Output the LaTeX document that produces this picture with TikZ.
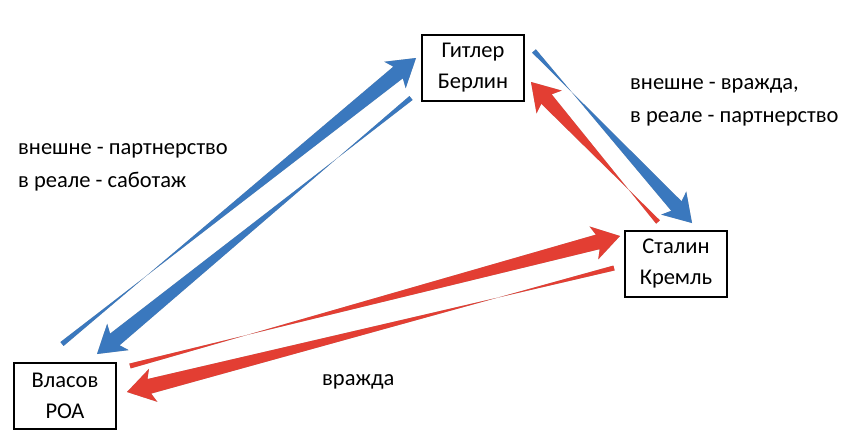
\documentclass[tikz,border=0pt]{standalone}
\usepackage{fontspec}
\setmainfont{Carlito}
\usetikzlibrary{calc}
\definecolor{ablue}{HTML}{3A78BE}
\definecolor{ared}{HTML}{E33E33}
\tikzset{
  box/.style={draw=black, line width=2pt, minimum width=102pt, minimum height=66pt, inner sep=0pt, align=center, font=\fontsize{22.5}{31}\selectfont},
  lbl/.style={anchor=west, inner sep=0pt, align=left, font=\fontsize{22.5}{33}\selectfont},
}
% tapered arrow: #1 colour, #2 tail coordinate, #3 tip coordinate, #4 tail width, #5 shaft width at head
\newcommand{\taperarrow}[5]{%
  \fill[black!30, shift={(1.5pt,1.5pt)}]
    ($(#2)!#4/2!90:(#3)$) -- ($(#3)!23pt!(#2)!#5/2!-90:(#3)$) -- ($(#3)!27pt!(#2)!17pt!-90:(#3)$) -- (#3)
    -- ($(#3)!27pt!(#2)!17pt!90:(#3)$) -- ($(#3)!23pt!(#2)!#5/2!90:(#3)$) -- ($(#2)!#4/2!-90:(#3)$) -- cycle;
  \fill[#1]
    ($(#2)!#4/2!90:(#3)$) -- ($(#3)!23pt!(#2)!#5/2!-90:(#3)$) -- ($(#3)!27pt!(#2)!17pt!-90:(#3)$) -- (#3)
    -- ($(#3)!27pt!(#2)!17pt!90:(#3)$) -- ($(#3)!23pt!(#2)!#5/2!90:(#3)$) -- ($(#2)!#4/2!-90:(#3)$) -- cycle;
}
\begin{document}
\begin{tikzpicture}[x=1pt,y=-1pt]
\useasboundingbox[fill=white] (0,0) rectangle (843,442);
\node[box] (hitler) at (473,68) {Гитлер\\Берлин};
\node[box] (stalin) at (676,264) {Сталин\\Кремль};
\node[box] (vlasov) at (65,396) {Власов\\РОА};

\node[lbl] (t1) at (18,167) {внешне - партнерство\\в реале - саботаж};
\node[lbl] (t2) at (630,102) {внешне - вражда,\\в реале - партнерство};
\node[lbl] (t3) at (322,382) {вражда};

\coordinate (a1) at (62,344);
\coordinate (a2) at (416,58);
\coordinate (b1) at (411,98);
\coordinate (b2) at (97,354);
\coordinate (c1) at (534,51);
\coordinate (c2) at (692,223);
\coordinate (d1) at (658,222);
\coordinate (d2) at (531,82);
\coordinate (e1) at (130,366);
\coordinate (e2) at (620,236);
\coordinate (f1) at (614,268);
\coordinate (f2) at (127,392);

\taperarrow{ablue}{a1}{a2}{5pt}{15pt}
\taperarrow{ablue}{b1}{b2}{5pt}{15pt}
\taperarrow{ablue}{c1}{c2}{5pt}{14pt}
\taperarrow{ared}{d1}{d2}{5pt}{14pt}
\taperarrow{ared}{e1}{e2}{5pt}{15pt}
\taperarrow{ared}{f1}{f2}{5pt}{15pt}
\end{tikzpicture}
\end{document}
